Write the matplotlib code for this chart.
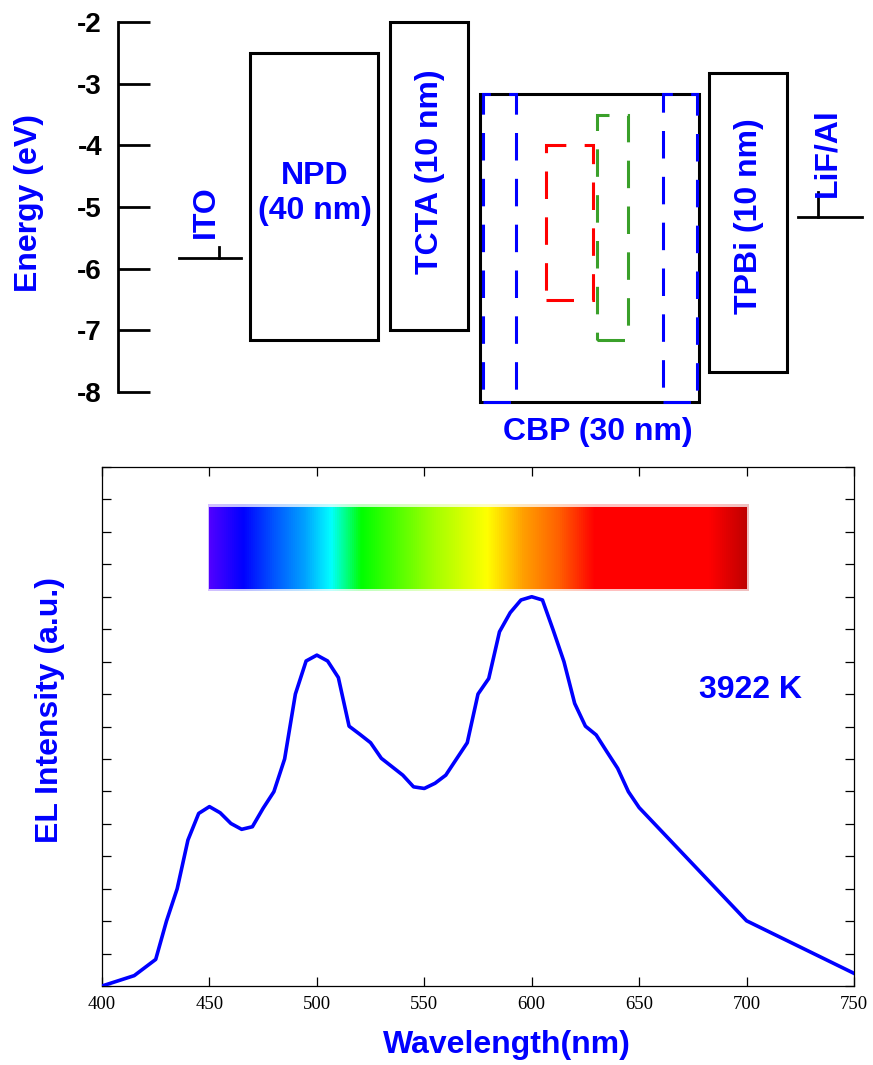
import matplotlib
matplotlib.use('Agg')
import matplotlib.pyplot as plt
import numpy as np
from matplotlib.patches import Rectangle
from matplotlib.colors import LinearSegmentedColormap

plt.rcParams['font.family'] = ['Liberation Sans', 'DejaVu Sans']
plt.rcParams['axes.unicode_minus'] = False

# energy levels (eV): name, LUMO, HOMO, x-extent of the box
layers = ['NPD', 'TCTA', 'CBP', 'TPBi']
lumo = [-2.5, -2.0, -3.17, -2.83]
homo = [-7.15, -7.0, -8.16, -7.68]
box_x = [(250, 378), (390, 468), (480, 699), (709, 787)]

electrodes = ['ITO', 'LiF/Al']
work_fn = [-5.83, -5.16]
elec_x = [(179, 241), (798, 862)]

# dopant levels drawn dashed inside CBP
dop_color = ['blue', 'blue', 'red', '#3aa02a']
dop_lumo = [-3.17, -3.17, -4.0, -3.5]
dop_homo = [-8.16, -8.16, -6.5, -7.16]
dop_x = [(483, 516), (663, 697), (546, 593), (597, 628)]

energy_ticks = [-2, -3, -4, -5, -6, -7, -8]

# EL spectrum
wl = [400, 415, 425, 430, 435, 440, 445, 450, 455, 460, 465, 470, 475, 480,
      485, 490, 495, 500, 505, 510, 515, 520, 525, 530, 535, 540, 545, 550,
      555, 560, 565, 570, 575, 580, 585, 590, 595, 600, 605, 610, 615, 620,
      625, 630, 635, 640, 645, 650, 700, 750]
el = [0, 0.32, 0.82, 2.0, 3.0, 4.5, 5.32, 5.53, 5.34, 5.01, 4.83, 4.91, 5.48,
      5.99, 7.0, 9.0, 10.02, 10.2, 10.02, 9.51, 8.01, 7.76, 7.5, 7.02, 6.76,
      6.5, 6.14, 6.09, 6.25, 6.5, 7.0, 7.5, 9.0, 9.48, 10.92, 11.51, 11.9,
      12.0, 11.9, 10.97, 10.0, 8.71, 8.01, 7.74, 7.22, 6.71, 5.99, 5.5, 2.01,
      0.39]
cct_label = '3922 K'

W, H = 873, 1065
fig = plt.figure(figsize=(W / 100, H / 100), dpi=100)

# ---------------- energy diagram ----------------
ax1 = fig.add_axes([0, 1 - 450 / H, 1, 450 / H])
ax1.set_xlim(0, W)
ax1.set_ylim(-8.9405, -1.6432)
for s in ['top', 'right', 'bottom']:
    ax1.spines[s].set_visible(False)
ax1.spines['left'].set_position(('data', 118))
ax1.spines['left'].set_bounds(-8, -2)
ax1.spines['left'].set_linewidth(2)
ax1.set_xticks([])
ax1.set_yticks(energy_ticks)
ax1.set_yticklabels([str(t) for t in energy_ticks])
ax1.tick_params(axis='y', direction='in', length=23, width=2, pad=11.5,
                labelsize=20)
for lab in ax1.get_yticklabels():
    lab.set_fontweight('bold')

for (x0, x1), lo, hi in zip(box_x, lumo, homo):
    ax1.add_patch(Rectangle((x0, hi), x1 - x0, lo - hi, fill=False,
                            edgecolor='black', lw=2.2, zorder=2))
for (x0, x1), c, lo, hi in zip(dop_x, dop_color, dop_lumo, dop_homo):
    ax1.add_patch(Rectangle((x0, hi), x1 - x0, lo - hi, fill=False,
                            edgecolor=c, lw=2.2, linestyle=(0, (9, 6)),
                            zorder=3))
for (x0, x1), e in zip(elec_x, work_fn):
    ax1.plot([x0, x1], [e, e], color='black', lw=2)
ax1.plot([219, 219], [work_fn[0], -5.65], color='black', lw=2)
ax1.plot([818, 818], [work_fn[1], -4.76], color='black', lw=2)

tkw = dict(color='blue', fontweight='bold', fontsize=23, ha='center',
           va='center')
ax1.text(315, -4.78, 'NPD\n(40 nm)', linespacing=1.25, **tkw)
ax1.text(430, -4.43, 'TCTA (10 nm)', rotation=90, **tkw)
ax1.text(598, -8.65, 'CBP (30 nm)', **tkw)
ax1.text(749, -5.15, 'TPBi (10 nm)', rotation=90, **tkw)
ax1.text(206, -5.08, 'ITO', rotation=90, **tkw)
ax1.text(827, -4.12, 'LiF/Al', rotation=90, **tkw)
ax1.text(29, -4.94, 'Energy (eV)', rotation=90, **tkw)

# ---------------- EL spectrum ----------------
ax2 = fig.add_axes([102 / W, 1 - 986 / H, 752 / W, 519 / H])
ax2.plot(wl, el, color='blue', lw=2.6, zorder=3)
ax2.set_xlim(400, 750)
ax2.set_ylim(0, 16)
ax2.set_xticks(np.arange(400, 751, 50))
ax2.set_yticks(np.arange(0, 17, 1))
ax2.set_yticklabels([])
ax2.tick_params(direction='in', length=6.5, width=0.9, top=True, right=True,
                pad=7)
for lab in ax2.get_xticklabels():
    lab.set_fontfamily('Liberation Serif')
    lab.set_fontsize(13.5)
for s in ax2.spines.values():
    s.set_linewidth(0.9)

spec = LinearSegmentedColormap.from_list('spec', [
    (0.0, '#5000ff'), (0.062, '#0000ff'), (0.116, '#0050ff'),
    (0.176, '#00a0ff'), (0.226, '#00ffff'), (0.283, '#00ff00'),
    (0.336, '#40ff00'), (0.416, '#a0ff00'), (0.517, '#ffff00'),
    (0.584, '#ffa000'), (0.651, '#ff6000'), (0.718, '#ff0000'),
    (0.932, '#ff0000'), (1.0, '#c00000')])
grad = np.linspace(0, 1, 512).reshape(1, -1)
ax2.imshow(grad, cmap=spec, extent=(449.3, 700.7, 12.18, 14.84),
           aspect='auto', alpha=0.25, zorder=1)
ax2.imshow(grad, cmap=spec, extent=(450, 700, 12.25, 14.77),
           aspect='auto', zorder=2)

ax2.text(702, 8.88, cct_label, color='blue', fontweight='bold', fontsize=23,
         ha='center', va='baseline')

fig.text(507 / W, 1 - 1045 / H, 'Wavelength(nm)', color='blue',
         fontweight='bold', fontsize=23, ha='center', va='center')
fig.text(50 / W, 1 - 710 / H, 'EL Intensity (a.u.)', color='blue',
         fontweight='bold', fontsize=23, ha='center', va='center',
         rotation=90)

fig.savefig('out.png', dpi=100)
